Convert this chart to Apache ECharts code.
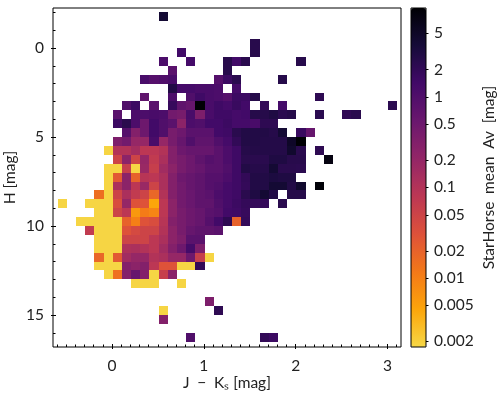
<!DOCTYPE html>
<html>
<head>
<meta charset="utf-8">
<style>html,body{margin:0;padding:0;background:#fff}#chart{width:500px;height:394px}</style>
<script src="https://cdn.jsdelivr.net/npm/echarts@6/dist/echarts.min.js"></script>
</head>
<body>
<div id="chart"></div>
<script>
// bins are 0.1 mag wide in J-Ks and 0.5 mag tall in H
var binW = 0.1, binH = 0.5, binShift = 0.008;
var n = null, y0 = 0.0018;

// row number (H = row * binH), first column (J-Ks = col * binW), mean Av per bin
var rowIdx = [-4, -1, 0, 1, 2, 3, 4, 5, 6, 7, 8, 9, 10, 11, 12, 13, 14, 15, 16, 17, 18, 19, 20, 21, 22, 23, 24, 25, 26, 28, 29, 30, 32];
var firstCol = [5, 15, 7, 5, 6, 3, 6, 3, 1, 0, 0, 1, 0, -1, 0, -1, -1, -1, -2, -6, -2, -4, -3, -2, -2, -2, -2, -1, 2, 10, 5, 5, 8];
var avRows = [
    [4],
    [2.5],
    [1.4, n, n, n, n, n, n, n, 2.5],
    [1.1, n, n, 1.3, n, n, n, 2.5, 1.4, 2.4, n, n, n, n, n, 2.5],
    [.8, n, n, n, n, n, 2.5],
    [1.2, .9, 1.0, 1.2, n, n, n, n, .9, 1.6, 2.3, n, n, n, n, 2.6],
    [2.8, 1.3, 1.3, 1.2, 1.2, 1.1, n, 1.3],
    [.7, n, n, 1.1, n, 1.0, 1.5, 1.2, 1.1, .9, 1.6, 1.6, 2.6, n, n, n, n, n, n, 2.2],
    [1.0, 1.6, n, .8, n, 1.8, .7, .6, 9.5, 1.2, 1.5, 1.3, 1.7, 1.4, n, 1.9, n, 1.3, n, n, n, n, n, n, n, n, n, n, n, 2.3],
    [.8, n, 1.1, 1.1, 1.2, 1.1, .45, .4, 1.2, .35, 1.2, 1.5, 1.5, 1.3, 1.4, 2.6, 2.6, 3, 2.3, 2.6, n, n, 2.3, n, n, 2.1, 2.4],
    [1.6, 2.4, 1.1, .5, 1.4, 1.0, .8, .25, 1.1, 1.0, 1.4, 1.4, 1.6, 1.3, 1.3, 1.2, 2.2, 2.2],
    [.9, .3, .5, 1.4, 1.0, .4, .5, .8, .8, .8, 1.4, 1.5, 2.4, 2.8, 2.8, 2.8, 2.6, 4, n, 1.7, .6],
    [.35, .45, .2, .2, 1.2, .2, .4, .6, 1.0, .7, .7, 1.0, 1.3, 2.0, 2.8, 2.8, 2.7, 2.7, 2.7, 5, 9.5],
    [y0, .1, .1, .14, .08, .08, .1, .3, .5, .6, .6, .6, .8, 1.1, 1.5, 2.6, 2.7, 2.7, 2.7, 2.7, 4.5, 2.4, n, 2.2],
    [.05, .25, .05, .2, .07, .12, .3, .4, .5, .7, .9, .8, 1.1, 1.5, 2.4, 2.4, 2.4, 3, 3, 2.5, 2.5, n, n, 7.5],
    [y0, y0, .06, y0, .18, .06, .15, .25, .4, .5, .6, .8, .8, 1.0, 1.5, 2.8, 2.6, 2.6, 4, 2.4, 2.4, 2.3],
    [y0, .025, .25, .02, .09, .08, .12, .3, .5, .6, .7, .9, .9, 1.1, 1.5, 2.0, 2.8, 2.8, 3.2, 3, 3],
    [y0, .12, .25, .08, .18, .05, .12, .3, .45, .6, .7, .9, 1.0, 1.3, 1.5, 1.9, 2.8, 2.8, 4, 4, 2.8, 4.5, n, 9],
    [.015, y0, .05, .12, .07, .05, .018, .1, .3, .45, .55, .7, .8, 1.1, 1.3, 1.5, 2.4, 3, 4, 2.8, n, 2.6, 2.6],
    [y0, n, n, y0, y0, y0, .035, .2, .03, .03, .0045, .08, .25, .45, .55, .7, .7, 1.0, 1.3, 1.6, 1.9, 1.9, 1.9, n, 2.4],
    [y0, y0, .05, .08, .006, .011, .009, .08, .25, .4, .5, .6, .8, .9, 1.4, 1.5, 1.8],
    [y0, y0, y0, y0, y0, .02, .01, .03, .035, .09, .3, .4, .5, .6, .9, 1.4, 2.2, .02, 1.9],
    [.07, y0, y0, y0, .03, .04, .05, .05, .1, .25, .4, .6, .7, .7, .8],
    [y0, y0, y0, .05, .05, .05, .08, .12, .25, .35, .8, .8],
    [y0, y0, y0, .11, .12, .1, .08, .15, .3, .5, 1.3, .35],
    [.018, y0, .025, .15, .2, .2, .1, .12, .2, .2, .5, .06, y0],
    [y0, y0, y0, .3, .25, .3, .08, .03, .03, y0, y0, 2.0],
    [y0, .014, .3, .6, .3, y0, .06, .25],
    [y0, y0, y0, n, n, y0],
    [.35],
    [y0, n, n, n, n, n, 2.2],
    [.3],
    [1.0, n, n, n, n, n, n, n, 2.0, 1.6]
];

var xTicks = [0, 1, 2, 3];
var xMinor = [-0.6, -0.5, -0.4, -0.3, -0.2, -0.1, 0.1, 0.2, 0.3, 0.4, 0.5, 0.6, 0.7, 0.8, 0.9, 1.1, 1.2, 1.3, 1.4, 1.5, 1.6, 1.7, 1.8, 1.9, 2.1, 2.2, 2.3, 2.4, 2.5, 2.6, 2.7, 2.8, 2.9, 3.1];
var yTicks = [0, 5, 10, 15];
var yMinor = [-2, -1, 1, 2, 3, 4, 6, 7, 8, 9, 11, 12, 13, 14, 16];
var cbarTicks = [5, 2, 1, 0.5, 0.2, 0.1, 0.05, 0.02, 0.01, 0.005, 0.002];

// inferno from 0 (top of the bar) down to 0.9
var inferno = ['#f6d746', '#fca50a', '#f37819', '#dd513a', '#bc3754', '#932667', '#6a176e', '#420a68', '#160b39', '#000004'];
var logMin = -2.76, logMax = 0.98;

var cells = [];
avRows.forEach(function (row, r) {
    row.forEach(function (val, k) {
        if (val === null) return;
        cells.push([(firstCol[r] + k) * binW + binShift, rowIdx[r] * binH, Math.log10(val)]);
    });
});

var font = 'Lato';
var ink = '#222';
var sp = '\u2002';

function axisBase(extra) {
    return Object.assign({
        type: 'value',
        scale: true,
        splitLine: { show: false },
        axisLine: { show: false, onZero: false },
        axisTick: { show: false },
        axisLabel: { show: false }
    }, extra);
}

var chart = echarts.init(document.getElementById('chart'));
chart.setOption({
    animation: false,
    backgroundColor: '#fff',
    textStyle: { fontFamily: font },
    grid: [
        { left: 53, top: 8, width: 348, height: 339, show: true, borderColor: '#000', borderWidth: 1, backgroundColor: 'transparent', z: 10, outerBoundsMode: 'none' },
        { left: 411, top: 8, width: 15, height: 339, show: true, borderColor: '#000', borderWidth: 1, backgroundColor: 'transparent', z: 10, outerBoundsMode: 'none' }
    ],
    xAxis: [
        axisBase({
            gridIndex: 0, min: -0.642, max: 3.147, position: 'bottom', z: 11, offset: -3,
            name: 'J' + sp + '\u2212' + sp + 'K\u209b [mag]', nameLocation: 'middle', nameGap: 31, nameMoveOverlap: false,
            nameTextStyle: { fontFamily: font, fontSize: 15.5, color: ink },
            axisTick: { show: true, length: 5, lineStyle: { color: '#000', width: 1 }, customValues: xTicks },
            axisLabel: { show: true, fontFamily: font, fontSize: 15.5, color: ink, margin: 14, customValues: xTicks }
        }),
        axisBase({
            gridIndex: 0, min: -0.642, max: 3.147, position: 'bottom', z: 11,
            axisTick: { show: true, inside: true, length: 2.5, lineStyle: { color: '#000', width: 1 }, customValues: xMinor }
        }),
        axisBase({ gridIndex: 1, min: 0, max: 1, show: false })
    ],
    yAxis: [
        axisBase({
            gridIndex: 0, min: -2.25, max: 16.8, inverse: true, position: 'left', z: 11, offset: -3,
            name: 'H [mag]', nameLocation: 'middle', nameGap: 38, nameRotate: 90, nameMoveOverlap: false,
            nameTextStyle: { fontFamily: font, fontSize: 15.5, color: ink },
            axisTick: { show: true, length: 5, lineStyle: { color: '#000', width: 1 }, customValues: yTicks },
            axisLabel: { show: true, fontFamily: font, fontSize: 15.5, color: ink, margin: 12, customValues: yTicks }
        }),
        axisBase({
            gridIndex: 0, min: -2.25, max: 16.8, inverse: true, position: 'left', z: 11,
            axisTick: { show: true, inside: true, length: 2.5, lineStyle: { color: '#000', width: 1 }, customValues: yMinor }
        }),
        axisBase({
            gridIndex: 1, min: logMin, max: logMax, position: 'right', z: 11,
            name: 'StarHorse' + sp + 'mean' + sp + 'Av' + sp + '[mag]', nameLocation: 'middle', nameGap: 55, nameRotate: 90,
            nameTextStyle: { fontFamily: font, fontSize: 15.5, color: ink },
            axisTick: { show: true, length: 2.5, lineStyle: { color: '#000', width: 1 }, customValues: cbarTicks.map(Math.log10) },
            axisLabel: {
                show: true, fontFamily: font, fontSize: 15.5, color: ink, margin: 8,
                customValues: cbarTicks.map(Math.log10),
                formatter: function (v) { return String(+Math.pow(10, v).toPrecision(1)); }
            }
        })
    ],
    visualMap: {
        type: 'continuous',
        seriesIndex: 0,
        dimension: 2,
        min: logMin,
        max: logMax,
        calculable: false,
        hoverLink: false,
        realtime: false,
        left: 411,
        top: 8,
        padding: 0,
        itemWidth: 15,
        itemHeight: 339,
        text: null,
        showLabel: false,
        inRange: { color: inferno }
    },
    series: [{
        type: 'custom',
        xAxisIndex: 0,
        yAxisIndex: 0,
        silent: true,
        encode: { x: 0, y: 1 },
        data: cells,
        renderItem: function (params, api) {
            var a = api.coord([api.value(0), api.value(1)]);
            var b = api.coord([api.value(0) + binW, api.value(1) + binH]);
            return {
                type: 'rect',
                shape: { x: Math.round(a[0]), y: Math.round(a[1]), width: Math.round(b[0]) - Math.round(a[0]), height: Math.round(b[1]) - Math.round(a[1]) },
                style: { fill: api.visual('color') }
            };
        }
    }]
});
</script>
</body>
</html>
